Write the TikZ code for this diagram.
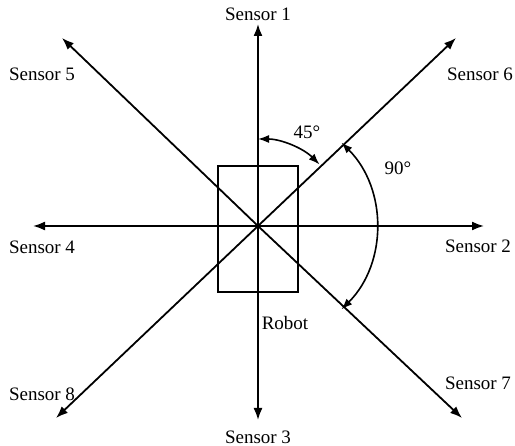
\documentclass[tikz,border=0pt]{standalone}
\usepackage{fontspec}
\setmainfont{Liberation Serif}
\usetikzlibrary{arrows.meta}

\tikzset{
  ray/.style={line width=1.8pt,-{Latex[length=12pt,width=9pt]}},
  angarrow/.style={line width=1.6pt,{Latex[length=11pt,width=8pt]}-{Latex[length=11pt,width=8pt]}},
  lbl/.style={inner sep=0pt,font=\fontsize{19}{22}\selectfont},
}

\begin{document}
\begin{tikzpicture}[x=1pt,y=-1pt]
\useasboundingbox (0,0) rectangle (515,446);
\coordinate (c) at (258,226);
% sensor directions
\coordinate (n) at (258,24);
\coordinate (s) at (258,420);
\coordinate (w) at (33,226);
\coordinate (e) at (484,226);
\coordinate (nw) at (62,38);
\coordinate (ne) at (456,38);
\coordinate (sw) at (56,418);
\coordinate (se) at (462,418);
% robot body
\node[draw,line width=1.8pt,minimum width=80pt,minimum height=126pt,inner sep=0pt] (robot) at (258,229) {};
\foreach \d in {n,s,w,e,nw,ne,sw,se}
  \draw[ray] (c)--(\d);
% angles
\draw[angarrow] ([shift={(-90:87)}]c) arc[start angle=-90,end angle=-45,radius=87];
\draw[angarrow] ([shift={(-45:118)}]c) arc[start angle=-45,end angle=45,radius=118];
\node[lbl] (a45) at (307,132) {45°};
\node[lbl] (a90) at (398,168) {90°};
% labels
\node[lbl] (s1) at (258,14) {Sensor 1};
\node[lbl] (s2) at (478,246) {Sensor 2};
\node[lbl] (s3) at (258,437) {Sensor 3};
\node[lbl] (s4) at (42,247) {Sensor 4};
\node[lbl] (s5) at (42,74) {Sensor 5};
\node[lbl] (s6) at (480,74) {Sensor 6};
\node[lbl] (s7) at (478,383) {Sensor 7};
\node[lbl] (s8) at (42,394) {Sensor 8};
\node[lbl] (rl) at (285,323) {Robot};
\end{tikzpicture}
\end{document}
